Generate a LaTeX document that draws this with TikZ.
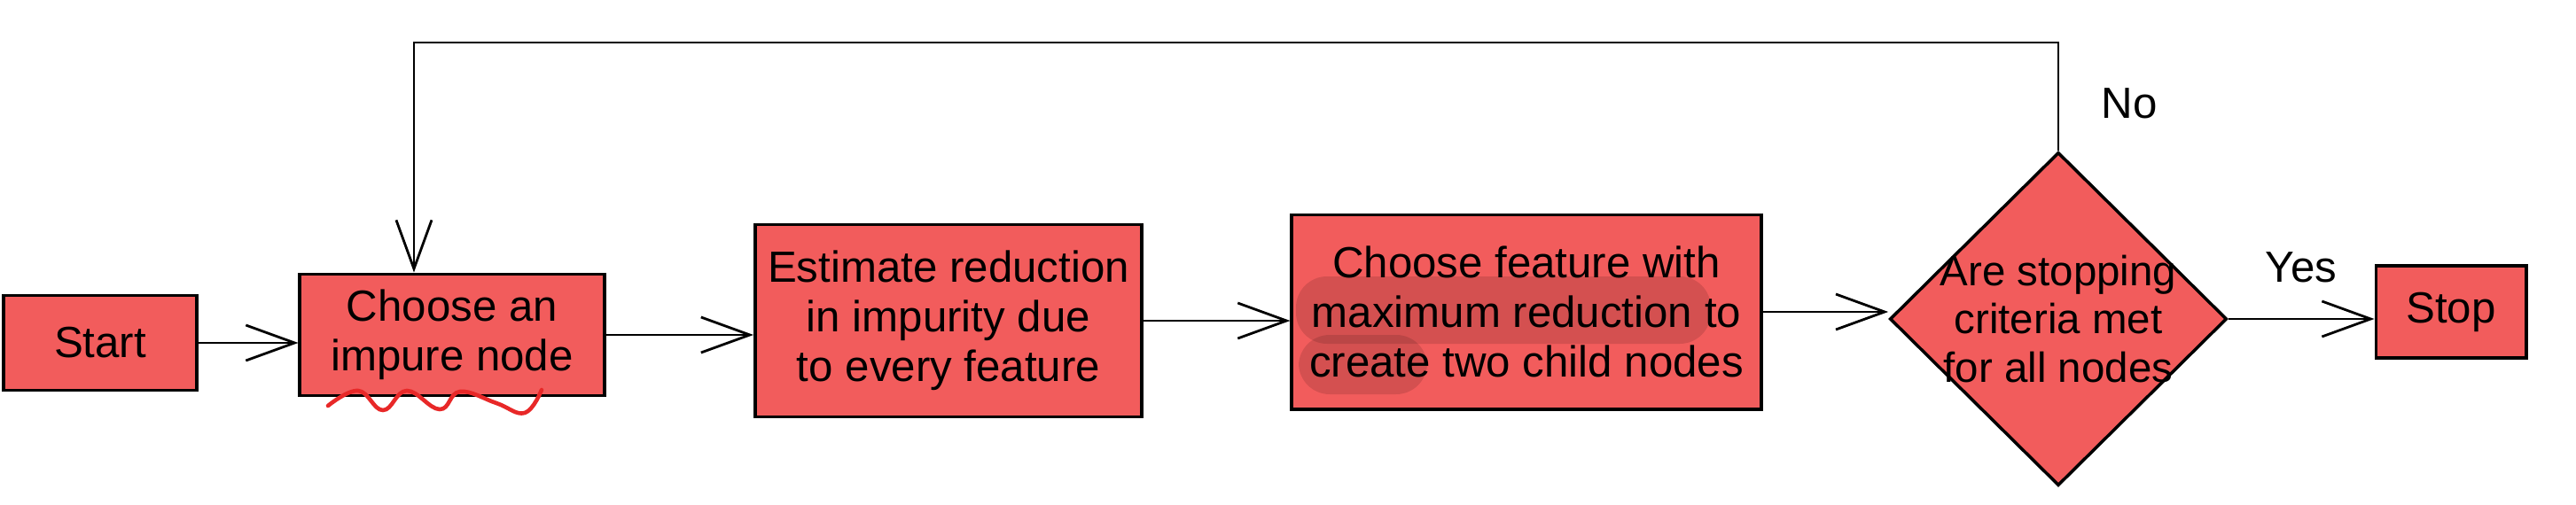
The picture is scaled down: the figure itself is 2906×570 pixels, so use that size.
\documentclass[tikz,border=0pt]{standalone}
\usepackage{fontspec}
\setmainfont{Liberation Sans}
\usetikzlibrary{arrows.meta,shapes.geometric}
\definecolor{boxred}{RGB}{242,92,92}
\definecolor{squig}{RGB}{232,40,40}
\begin{document}
\begin{tikzpicture}[x=0.01cm,y=-0.01cm,
 box/.style={draw=black,line width=1.1pt,fill=boxred,inner sep=0pt,align=center,font=\fontsize{14}{16}\selectfont},
 flow/.style={draw=black,line width=0.8pt,-{Straight Barb[length=0.55cm,width=0.4cm]}},
 lbl/.style={font=\fontsize{14}{16}\selectfont},
 hilite/.style={fill=black,opacity=0.12,rounded corners=0.35cm}]
\useasboundingbox (0,0) rectangle (2906,570);
\node[box,minimum width=2.18cm,minimum height=1.07cm] (start) at (113,387) {Start};
\node[box,minimum width=3.43cm,minimum height=1.37cm] (choose) at (510,378) {Choose an\\impure node};
\node[box,minimum width=4.36cm,minimum height=2.17cm] (est) at (1070,362) {Estimate reduction\\in impurity due\\to every feature};
\node[box,minimum width=5.29cm,minimum height=2.19cm] (feat) at (1722,352) {Choose feature with\\maximum reduction to\\create two child nodes};
\node[diamond,draw=black,line width=1pt,fill=boxred,minimum width=3.8cm,minimum height=3.76cm,inner sep=0pt] (dia) at (2322,360) {};
\node[align=center,font=\fontsize{13.5}{15.5}\selectfont] (diat) at (dia.center) {Are stopping\\criteria met\\for all nodes};
\node[box,minimum width=1.69cm,minimum height=1.04cm] (stop) at (2765,352) {Stop};
\fill[hilite] (1462,312) rectangle (1930,388);
\fill[hilite] (1465,378) rectangle (1610,445);
\draw[squig,line width=1.3pt,line cap=round] plot[smooth,tension=0.7] coordinates {(370,458) (404,441) (432,463) (459,441) (496,462) (519,442) (560,455) (592,466) (611,440)};
\coordinate (ytop) at (0,48);
\draw[flow] (start.east) -- (start.east -| choose.west);
\draw[flow] (choose.east) -- (choose.east -| est.west);
\draw[flow] (est.east) -- (est.east -| feat.west);
\draw[flow] (feat.east) -- (feat.east -| dia.west);
\draw[flow] (dia.east) -- (dia.east -| stop.west);
\draw[flow] (dia.north) -- (dia.north |- ytop) -| ([xshift=-0.43cm]choose.north);
\node[lbl] (no) at (2402,117) {No};
\node[lbl] (yes) at (2596,302) {Yes};
\end{tikzpicture}
\end{document}
